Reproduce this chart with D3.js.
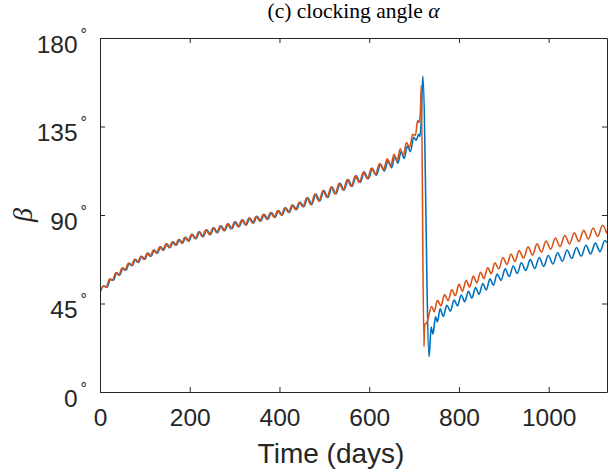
<!DOCTYPE html>
<html><head><meta charset="utf-8">
<script src="https://cdn.jsdelivr.net/npm/d3@7"></script>
<style>body{margin:0;background:#fff}svg{display:block}</style>
</head><body><svg id="c" width="608" height="474"></svg>
<script>
const xTicks = [0, 200, 400, 600, 800, 1000];
const yTicks = [0, 45, 90, 135, 180];
const xDomain = [0, 1130];
const yDomain = [0, 180];
const titleText = "(c) clocking angle ";
const xLabel = "Time (days)";
const yLabel = "β";

// [time (days), beta (deg)] — local extremes
const blueSeries = [[0,51.0],[9,53.9],[16,53.3],[23,57.4],[30,56.8],[37,60.6],[44,59.4],[51,63.0],[58,61.9],[65,65.5],[72,64.3],[79,67.5],[86,65.9],[93,69.0],[100,67.4],[107,70.6],[114,69.0],[121,72.2],[128,70.6],[135,73.8],[142,72.1],[149,75.3],[156,73.4],[163,76.4],[170,74.6],[177,77.5],[184,75.7],[191,78.7],[198,76.8],[206,80.2],[214,77.9],[222,81.5],[230,79.0],[238,82.5],[246,80.0],[254,83.5],[262,81.0],[270,84.5],[278,82.0],[286,85.5],[294,83.0],[302,86.5],[310,84.0],[318,87.5],[326,84.9],[334,88.4],[342,85.9],[350,89.4],[358,86.9],[366,90.3],[374,87.8],[382,91.3],[390,88.8],[398,92.3],[406,89.9],[414,93.6],[422,91.3],[430,95.0],[438,92.7],[446,96.5],[454,94.2],[463,98.8],[472,95.3],[481,100.6],[490,97.1],[499,102.4],[508,98.9],[517,104.2],[526,100.7],[535,106.1],[544,102.6],[553,108.0],[562,104.5],[571,109.9],[580,106.5],[589,111.8],[598,108.4],[607,113.6],[616,110.2],[625,115.8],[634,112.4],[642,117.8],[650,114.0],[657,119.8],[664,116.4],[671,122.2],[678,118.8],[685,125.0],[692,122.2],[699,129.5],[705,128.0],[710,131.0],[713,130.0],[716,138.0],[719.5,160.6],[733.5,18.0],[738,33.0],[742,29.5],[748,38.3],[752,35.7],[758,42.3],[765,38.4],[773,44.1],[781,41.1],[789,46.8],[797,43.8],[805,49.3],[813,45.9],[821,51.2],[829,47.8],[837,53.1],[845,49.7],[853,55.2],[861,51.9],[869,57.6],[877,54.3],[885,60.0],[894,56.8],[903,62.6],[912,58.7],[921,64.1],[930,60.3],[939,65.7],[949,61.8],[959,67.3],[969,62.8],[979,68.4],[989,63.9],[999,69.4],[1009.5,65.1],[1020,70.8],[1030.5,66.5],[1041,72.2],[1051.5,67.9],[1062,73.5],[1072.5,69.0],[1083,74.6],[1093.5,70.2],[1104,75.7],[1114.5,71.4],[1125,77.0],[1130,76.0]];

const orangeSeries = [[0,50.3],[7,53.9],[14,53.3],[21,57.4],[28,56.8],[35,60.6],[42,59.4],[49,63.0],[56,61.9],[63,65.5],[70,64.3],[77,67.5],[84,65.9],[91,69.0],[98,67.4],[105,70.6],[112,69.0],[119,72.2],[126,70.6],[133,73.8],[140,72.1],[147,75.3],[154,73.4],[161,76.4],[168,74.6],[175,77.5],[182,75.7],[189,78.7],[196,76.8],[204,80.2],[212,77.9],[220,81.5],[228,79.0],[236,82.5],[244,80.0],[252,83.5],[260,81.0],[268,84.5],[276,82.0],[284,85.5],[292,83.0],[300,86.5],[308,84.0],[316,87.5],[324,84.9],[332,88.4],[340,85.9],[348,89.4],[356,86.9],[364,90.3],[372,87.8],[380,91.3],[388,88.8],[396,92.3],[404,89.9],[412,93.6],[420,91.3],[428,95.0],[436,92.7],[444,96.5],[452,94.2],[461,98.8],[470,95.3],[479,100.6],[488,97.1],[497,102.4],[506,98.9],[515,104.2],[524,100.7],[533,106.1],[542,102.6],[551,108.0],[560,104.5],[569,109.9],[578,106.5],[587,111.8],[596,108.4],[605,113.9],[614,110.6],[623,116.2],[632,113.0],[640,118.6],[648,114.8],[655,120.9],[662,117.5],[669,123.7],[676,120.3],[683,126.9],[690,124.3],[697,131.0],[703,130.5],[708,138.0],[711,137.0],[714,142.0],[716,156.0],[722,23.0],[723.5,34.0],[729,35.5],[739,43.5],[745,40.8],[752,46.6],[760,43.8],[768,49.5],[776,46.4],[784,52.1],[792,49.0],[800,54.7],[808,51.3],[816,56.8],[824,53.4],[832,58.9],[840,55.5],[848,60.9],[856,57.7],[864,63.3],[872,60.1],[880,65.7],[889,62.6],[898,68.4],[907,64.8],[916,70.2],[925,66.4],[934,71.9],[944,68.1],[954,73.8],[964,69.6],[974,75.3],[984,71.1],[994,76.8],[1004.5,72.6],[1015,78.3],[1025.5,73.9],[1036,79.6],[1046.5,75.3],[1057,80.9],[1067.5,76.5],[1078,82.2],[1088.5,77.8],[1099,83.4],[1109.5,79.1],[1120,84.8],[1130,80.5]];

const svg = d3.select('#c');
const M = {l: 100, r: 607, t: 38, b: 392};
const x = d3.scaleLinear().domain(xDomain).range([M.l, M.r]);
const y = d3.scaleLinear().domain(yDomain).range([M.b, M.t]);
const axisColor = '#262626';
const sans = 'Liberation Sans, Arial, sans-serif';
const serif = 'Liberation Serif, Times New Roman, serif';

svg.append('defs').append('clipPath').attr('id', 'clip')
  .append('rect').attr('x', M.l).attr('y', M.t).attr('width', M.r - M.l).attr('height', M.b - M.t);

const line = d3.line().x(d => x(d[0])).y(d => y(d[1])).curve(d3.curveMonotoneX);
const plot = svg.append('g').attr('clip-path', 'url(#clip)');
plot.append('path').datum(blueSeries).attr('d', line)
  .attr('fill', 'none').attr('stroke', '#0072BD').attr('stroke-width', 1.6).attr('stroke-linejoin', 'round');
plot.append('path').datum(orangeSeries).attr('d', line)
  .attr('fill', 'none').attr('stroke', '#D95319').attr('stroke-width', 1.6).attr('stroke-linejoin', 'round');

function styleAxis(g) {
  g.selectAll('path.domain').attr('stroke', axisColor).attr('stroke-width', 1);
  g.selectAll('.tick line').attr('stroke', axisColor).attr('stroke-width', 1);
}

// bottom axis with labels
const gx = svg.append('g').attr('transform', `translate(0,${M.b})`)
  .call(d3.axisBottom(x).tickValues(xTicks).tickSize(-5).tickSizeOuter(0).tickPadding(17).tickFormat(d3.format('d')));
styleAxis(gx);
gx.selectAll('.tick text').attr('fill', axisColor).attr('font-family', sans).attr('font-size', 24.5);

// top axis (ticks only)
const gt = svg.append('g').attr('transform', `translate(0,${M.t})`)
  .call(d3.axisTop(x).tickValues(xTicks).tickSize(-5).tickSizeOuter(0).tickFormat(''));
styleAxis(gt);

// left axis with degree labels
const gy = svg.append('g').attr('transform', `translate(${M.l},0)`)
  .call(d3.axisLeft(y).tickValues(yTicks).tickSize(-5).tickSizeOuter(0).tickFormat(''));
styleAxis(gy);
gy.selectAll('.tick text').remove();
gy.selectAll('.tick').each(function(d) {
  const t = d3.select(this).append('text')
    .attr('x', -13).attr('y', 14).attr('text-anchor', 'end')
    .attr('fill', axisColor).attr('font-family', sans).attr('font-size', 24.5);
  t.append('tspan').text(d);
  t.append('tspan').attr('dx', 3).attr('dy', -13).attr('font-size', 16).text('°');
});

// right axis (ticks only)
const gr = svg.append('g').attr('transform', `translate(${M.r},0)`)
  .call(d3.axisRight(y).tickValues(yTicks).tickSize(-5).tickSizeOuter(0).tickFormat(''));
styleAxis(gr);

// title
const title = svg.append('text').attr('x', (M.l + M.r) / 2).attr('y', 18)
  .attr('text-anchor', 'middle').attr('font-family', serif).attr('font-size', 21.5).attr('fill', '#000');
title.append('tspan').text(titleText);
title.append('tspan').attr('font-style', 'italic').text('α');

// x label
svg.append('text').attr('x', 331).attr('y', 463)
  .attr('text-anchor', 'middle').attr('font-family', sans).attr('font-size', 28)
  .attr('fill', axisColor).text(xLabel);

// y label
svg.append('text').attr('transform', `translate(32,${(M.t + M.b) / 2}) rotate(-90)`)
  .attr('text-anchor', 'middle').attr('font-family', serif).attr('font-style', 'italic')
  .attr('font-size', 28).attr('fill', axisColor).text(yLabel);
</script></body></html>
